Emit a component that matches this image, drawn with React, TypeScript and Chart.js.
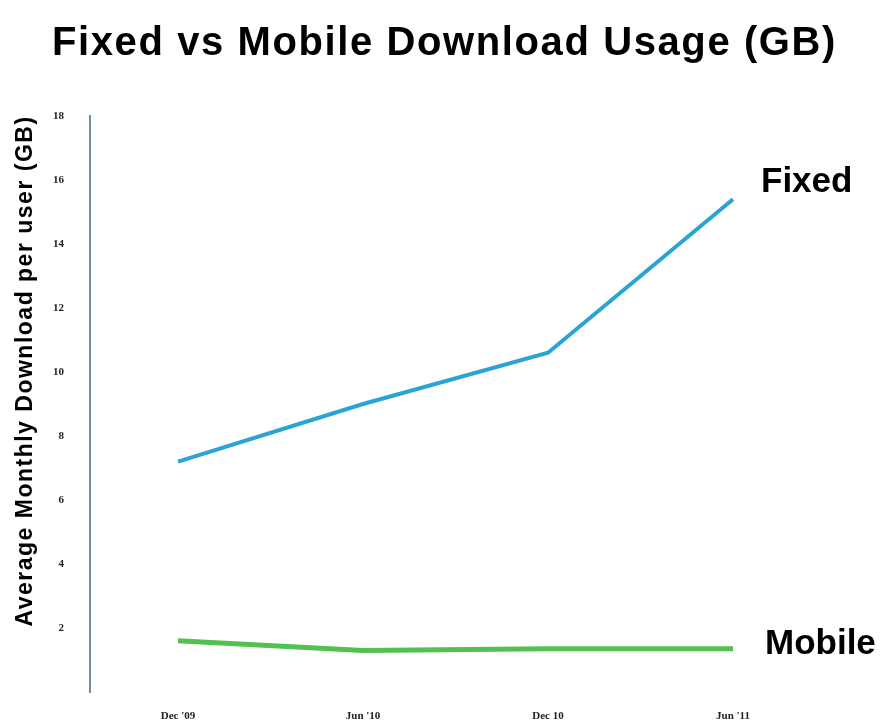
import React, { useEffect, useRef } from "react";
import { Chart, registerables } from "chart.js";

Chart.register(...registerables);

const categories: string[] = ["Dec '09", "Jun '10", "Dec 10", "Jun '11"];
const fixedValues: number[] = [7.2, 9.0, 10.6, 15.4];
const mobileValues: number[] = [1.6, 1.3, 1.35, 1.35];
const seriesLabels: string[] = ["Fixed", "Mobile"];
const chartTitle = "Fixed vs Mobile Download Usage (GB)";
const yAxisTitle = "Average Monthly Download per user (GB)";

const textPlugin = {
  id: "textPlugin",
  afterDraw(chart: any) {
    const ctx = chart.ctx;
    // chart title
    ctx.save();
    ctx.fillStyle = "#000";
    (ctx as any).letterSpacing = "1.6px";
    ctx.font = "bold 40px 'Liberation Sans', Arial, sans-serif";
    ctx.textAlign = "center";
    ctx.textBaseline = "middle";
    ctx.fillText(chartTitle, chart.width / 2 + 1, 44);
    ctx.restore();

    // end labels
    ctx.save();
    ctx.fillStyle = "#000";
    ctx.font = "bold 35px 'Liberation Sans', Arial, sans-serif";
    ctx.textAlign = "left";
    ctx.textBaseline = "middle";
    const offsets = [[28, -17], [32, -4]];
    chart.data.datasets.forEach((ds: any, i: number) => {
      const meta = chart.getDatasetMeta(i);
      const last = meta.data[meta.data.length - 1];
      if (!last) return;
      ctx.fillText(ds.label, last.x + offsets[i][0], last.y + offsets[i][1]);
    });
    ctx.restore();

    // y axis title
    ctx.save();
    const ya = chart.scales.y;
    ctx.fillStyle = "#000";
    (ctx as any).letterSpacing = "1.5px";
    ctx.translate(26, (ya.top + ya.bottom) / 2 - 33);
    ctx.rotate(-Math.PI / 2);
    ctx.font = "bold 23px 'Liberation Sans', Arial, sans-serif";
    ctx.textAlign = "center";
    ctx.textBaseline = "middle";
    ctx.fillText(yAxisTitle, 0, 0);
    ctx.restore();
  },
};

export default function App() {
  const ref = useRef<HTMLCanvasElement | null>(null);
  useEffect(() => {
    if (!ref.current) return;
    const chart = new Chart(ref.current, {
      type: "line",
      data: {
        datasets: [
          {
            label: seriesLabels[0],
            data: fixedValues.map((v, i) => ({ x: i, y: v })),
            borderColor: "#2ba3d6",
            borderWidth: 4,
            pointRadius: 0,
            tension: 0,
          },
          {
            label: seriesLabels[1],
            data: mobileValues.map((v, i) => ({ x: i, y: v })),
            borderColor: "#52c152",
            borderWidth: 5,
            pointRadius: 0,
            tension: 0,
          },
        ],
      },
      plugins: [textPlugin],
      options: {
        animation: false,
        responsive: true,
        maintainAspectRatio: false,
        layout: { padding: { left: 0, right: 0, top: 116, bottom: 0 } },
        plugins: {
          legend: { display: false },
          tooltip: { enabled: false },
          title: { display: false },
        },
        scales: {
          x: {
            type: "linear",
            min: -0.476,
            max: 3 + 154 / 185,
            grid: { display: false, drawTicks: false },
            border: { display: false },
            afterBuildTicks: (scale: any) => {
              scale.ticks = categories.map((_, i) => ({ value: i }));
            },
            afterFit: (scale: any) => {
              scale.height = 35;
            },
            ticks: {
              padding: 18,
              color: "#222",
              font: { family: "'Liberation Serif', serif", size: 11, weight: "bold" },
              callback: (v: any) => categories[Math.round(Number(v))] ?? "",
              maxRotation: 0,
              autoSkip: false,
            },
          },
          y: {
            min: 0,
            max: 18,
            grid: { display: false, drawTicks: false },
            border: { display: true, color: "#6f8ea3", width: 2 },
            afterFit: (scale: any) => {
              scale.width = 90;
            },
            ticks: {
              stepSize: 2,
              padding: 26,
              color: "#222",
              font: { family: "'Liberation Serif', serif", size: 11, weight: "bold" },
              callback: (v: any) => (Number(v) === 0 ? "" : String(v)),
            },
          },
        },
      },
    });
    return () => chart.destroy();
  }, []);
  return (
    <div style={{ position: "absolute", left: 0, top: 0, width: 887, height: 727, background: "#fff" }}>
      <canvas ref={ref} />
    </div>
  );
}
